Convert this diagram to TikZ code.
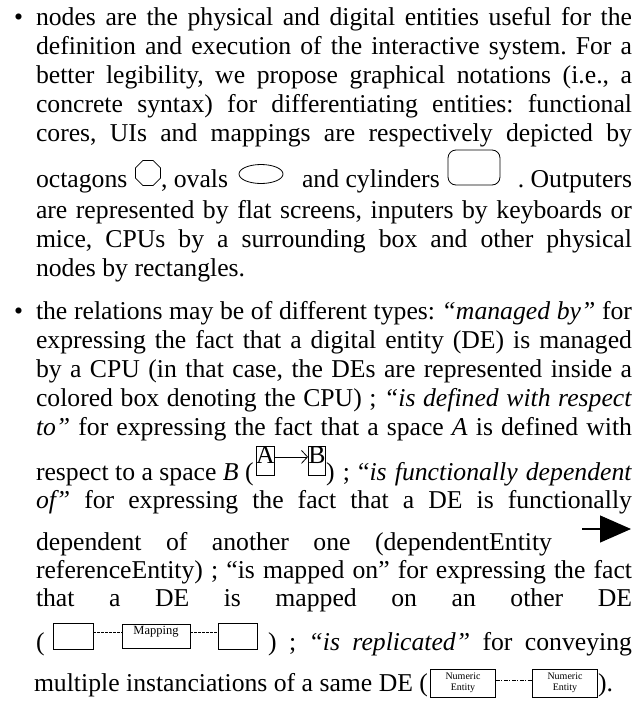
\documentclass[tikz,border=0pt]{standalone}
\usepackage{fontspec}
\setmainfont{Liberation Serif}
\usetikzlibrary{shapes.geometric,arrows.meta}

% justified line of the column
\newcommand{\jline}[2][596pt]{\makebox[#1][s]{#2}}
\frenchspacing

\begin{document}
\begin{tikzpicture}[x=1pt,y=-1pt,
  txt/.style={anchor=base west,inner sep=0pt,outer sep=0pt,font=\fontsize{25.7}{29}\selectfont},
  txtr/.style={txt,anchor=base east},
  icon/.style={draw,line width=0.8pt,inner sep=0pt},
  debox/.style={icon,minimum width=40pt,minimum height=26pt},
  mapbox/.style={icon,minimum width=68pt,text height=10pt,text depth=14pt,
    font=\fontsize{12.5}{13}\selectfont},
  numbox/.style={icon,minimum width=65pt,minimum height=28pt,align=center,
    font=\fontsize{10}{11}\selectfont},
  letterbox/.style={icon,anchor=north,minimum width=17pt,text height=17pt,text depth=12pt,
    font=\fontsize{25.7}{29}\selectfont}]
  \useasboundingbox (0,0) rectangle (635,704);

  % first item
  \node[txt] (bul1) at (14,25) {•};
  \node[txt] (l1) at (36,25) {\jline{nodes are the physical and digital entities useful for the}};
  \node[txt] (l2) at (36,54) {\jline{definition and execution of the interactive system. For a}};
  \node[txt] (l3) at (36,83) {\jline{better legibility, we propose graphical notations (i.e., a}};
  \node[txt] (l4) at (36,112) {\jline{concrete syntax) for differentiating entities: functional}};
  \node[txt] (l5) at (36,141) {\jline{cores, UIs and mappings are respectively depicted by}};
  \node[txt] (l6a) at (36,187) {octagons};
  \node[icon,regular polygon,regular polygon sides=8,minimum size=27pt] (oct) at (148,173) {};
  \node[txt] (l6b) at (161,187) {, ovals};
  \node[icon,ellipse,minimum width=44pt,minimum height=19pt] (oval) at (261,174) {};
  \node[txt] (l6c) at (302,187) {and cylinders};
  \node[icon,rounded corners=8pt,minimum width=52pt,minimum height=35pt] (cyl) at (474,167.5) {};
  \node[txtr] (l6d) at (632,187) {. Outputers};
  \node[txt] (l7) at (36,218) {\jline{are represented by flat screens, inputers by keyboards or}};
  \node[txt] (l8) at (36,247) {\jline{mice, CPUs by a surrounding box and other physical}};
  \node[txt] (l9) at (36,276) {nodes by rectangles.};

  % second item
  \node[txt] (bul2) at (14,319) {•};
  \node[txt] (l10) at (36,319) {\jline{the relations may be of different types: \textit{“managed by”} for}};
  \node[txt] (l11) at (36,348) {\jline{expressing the fact that a digital entity (DE) is managed}};
  \node[txt] (l12) at (36,377) {\jline{by a CPU (in that case, the DEs are represented inside a}};
  \node[txt] (l13) at (36,406) {\jline{colored box denoting the CPU) ; \textit{“is defined with respect}}};
  \node[txt] (l14) at (36,435) {\jline{\textit{to”} for expressing the fact that a space \textit{A} is defined with}};
  \node[txt] (l15a) at (36,480) {respect to a space \textit{B} (};
  \node[letterbox] (spA) at (265.5,446) {A};
  \node[letterbox] (spB) at (317,446) {B};
  \draw[line width=0.8pt,-{Straight Barb[length=6pt,width=13pt]}] ([yshift=4pt]spA.east) -- ([yshift=4pt]spB.west);
  \node[txtr] (l15b) at (632,480) {\jline[306pt]{) ; “\textit{is functionally dependent}}};
  \node[txt] (l16) at (36,508) {\jline{\textit{of”} for expressing the fact that a DE is functionally}};
  \node[txt] (l17) at (36,550) {\jline[516pt]{dependent of another one (dependentEntity}};
  \coordinate (depFrom) at (582,529);
  \coordinate (depTo) at (631,529);
  \draw[line width=1.2pt,-{Triangle[length=31pt,width=27pt]}] (depFrom) -- (depTo);
  \node[txt] (l18) at (36,578) {\jline{referenceEntity) ; “is mapped on” for expressing the fact}};
  \node[txt] (l19) at (36,606) {\jline{that a DE is mapped on an other DE}};

  % mapping
  \node[txt] (l20a) at (36,650) {(};
  \node[debox] (de1) at (73,636) {};
  \node[mapbox] (map) at (156,636) {Mapping};
  \node[debox,minimum width=39pt] (de2) at (237.5,636) {};
  \draw[line width=0.6pt,dash pattern=on 2.5pt off 1.5pt] ([yshift=4pt]de1.east) -- ([yshift=4pt]map.west);
  \draw[line width=0.6pt,dash pattern=on 2.5pt off 1.5pt] ([yshift=4pt]map.east) -- ([yshift=4pt]de2.west);
  \node[txtr] (l20b) at (632,650) {\jline[364pt]{) ; \textit{“is replicated”} for conveying}};

  % replication
  \node[txt] (l21a) at (34,691) {multiple instanciations of a same DE (};
  \node[numbox] (ne1) at (463,683) {Numeric\\Entity};
  \node[numbox] (ne2) at (565,683) {Numeric\\Entity};
  \draw[line width=0.6pt,dash pattern=on 4pt off 1.5pt on 1pt off 1.5pt] ([yshift=3pt]ne1.east) -- ([yshift=3pt]ne2.west);
  \node[txt] (l21b) at (598,691) {).};
\end{tikzpicture}
\end{document}
